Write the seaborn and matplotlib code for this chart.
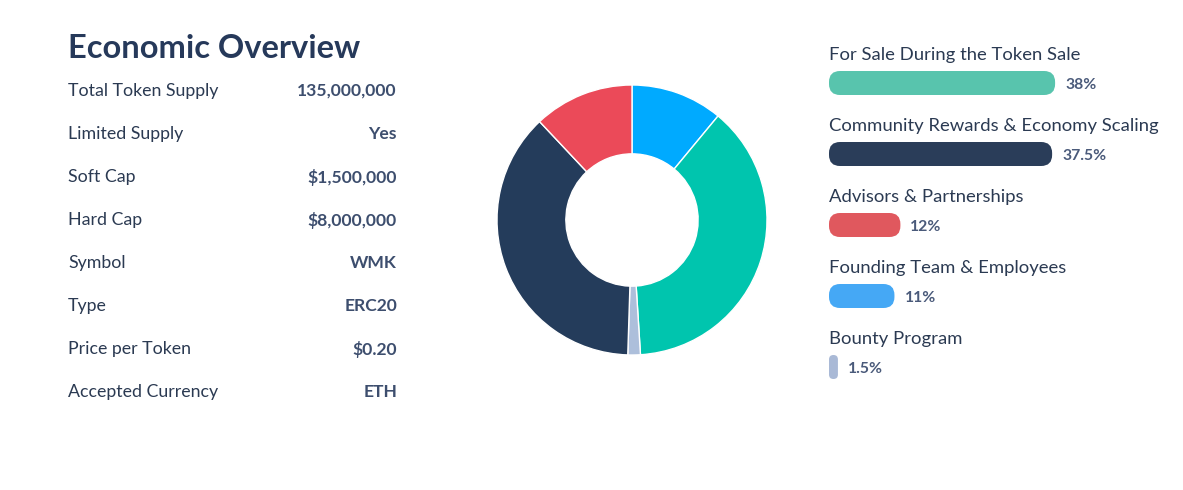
import matplotlib
matplotlib.use("Agg")
import matplotlib.pyplot as plt
from matplotlib.patches import FancyBboxPatch
import pandas as pd
import seaborn as sns

# table data
title = "Economic Overview"
row_labels = ["Total Token Supply", "Limited Supply", "Soft Cap", "Hard Cap",
              "Symbol", "Type", "Price per Token", "Accepted Currency"]
row_values = ["135,000,000", "Yes", "$1,500,000", "$8,000,000",
              "WMK", "ERC20", "$0.20", "ETH"]

# allocation data
categories = ["For Sale During the Token Sale", "Community Rewards & Economy Scaling",
              "Advisors & Partnerships", "Founding Team & Employees", "Bounty Program"]
shares = [38, 37.5, 12, 11, 1.5]
share_labels = ["38%", "37.5%", "12%", "11%", "1.5%"]
bar_colors = ["#58c4ad", "#2a3d59", "#e0585e", "#45a8f5", "#a9b9d6"]

# donut order (clockwise from top)
donut_order = ["Founding Team & Employees", "For Sale During the Token Sale", "Bounty Program",
               "Community Rewards & Economy Scaling", "Advisors & Partnerships"]
donut_colors = ["#00aaff", "#00c5ae", "#adbfdb", "#243c5b", "#eb4a59"]

sns.set_theme(style="white")
plt.rcParams['font.family'] = ['Lato', 'DejaVu Sans']

W, H = 1183, 490
fig = plt.figure(figsize=(W / 100, H / 100), dpi=100)
fig.patch.set_facecolor("white")


def px_axes(x, y, w, h):
    return fig.add_axes([x / W, 1 - (y + h) / H, w / W, h / H])


# ---- left table ----
fig.text(68 / W, 1 - 49 / H, title, fontsize=23.5, fontweight="bold",
         color="#26395a", va="center", ha="left")
for i, (lab, val) in enumerate(zip(row_labels, row_values)):
    yy = 1 - (91 + 43 * i) / H
    fig.text(68 / W, yy, lab, fontsize=12.8, color="#2b3a52", va="center", ha="left")
    fig.text(397 / W, yy, val, fontsize=12.6, fontweight="bold", color="#3d4e6e",
             va="center", ha="right")

# ---- donut ----
axp = px_axes(492, 80, 280, 280)
lookup = dict(zip(categories, shares))
donut_vals = [lookup[c] for c in donut_order]
axp.pie(donut_vals, colors=donut_colors, startangle=90, counterclock=False,
        radius=1, wedgeprops=dict(width=0.51, edgecolor="white", linewidth=1))
lim = 140 / 135
axp.set_xlim(-lim, lim)
axp.set_ylim(-lim, lim)
axp.set_aspect("equal")
axp.axis("off")

# ---- bar legend ----
ax_l, ax_t, ax_w, ax_h = 829, 12, 320, 426
axb = px_axes(ax_l, ax_t, ax_w, ax_h)
df = pd.DataFrame({"category": categories, "share": shares})
sns.barplot(data=df, x="share", y="category", hue="category", palette=bar_colors,
            orient="h", width=24 / 71, saturation=1, legend=False, ax=axb)
xmax = ax_w / 5.95
axb.set_xlim(0, xmax)
axb.set_ylim(5, -1)
axb.axis("off")

pxx = ax_w / xmax
pxy = ax_h / 6.0
r_px = 11
for p in list(axb.patches):
    x0, y0 = p.get_x(), p.get_y()
    w, h = p.get_width(), p.get_height()
    col = p.get_facecolor()
    p.set_visible(False)
    rr = min(r_px, w * pxx / 2) / pxx
    fb = FancyBboxPatch((x0, y0), w, h,
                        boxstyle=f"round,pad=0,rounding_size={rr}",
                        mutation_aspect=pxx / pxy, facecolor=col, edgecolor="none")
    axb.add_patch(fb)

for i, (cat, val, lab) in enumerate(zip(categories, shares, share_labels)):
    axb.text(0, i - 28 / 71, cat, fontsize=13.3, color="#2b3a52", va="center", ha="left")
    axb.text(val + 10 / pxx, i + 2 / 71, lab, fontsize=11.3, fontweight="bold",
             color="#4a5a7a", va="center", ha="left")

fig.savefig("out.png", dpi=100, facecolor="white")
